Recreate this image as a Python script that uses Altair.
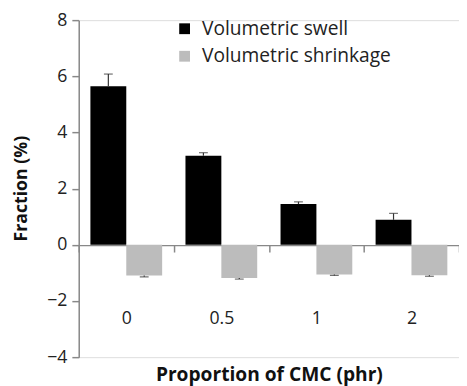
import altair as alt
import pandas as pd

cmc = ["0", "0.5", "1", "2"]
series = ["Volumetric swell", "Volumetric shrinkage"]
swell = [5.65, 3.17, 1.45, 0.89]
swell_err = [0.43, 0.11, 0.08, 0.23]
shrink = [-1.09, -1.18, -1.06, -1.08]
shrink_err = [0.05, 0.04, 0.03, 0.04]
colors = ["#000000", "#bcbcbc"]

rows = []
for i, c in enumerate(cmc):
    rows.append({"cmc": c, "series": series[0], "value": swell[i],
                 "cap": swell[i] + swell_err[i]})
    rows.append({"cmc": c, "series": series[1], "value": shrink[i],
                 "cap": shrink[i] - shrink_err[i]})
df = pd.DataFrame(rows)

FONT = "Open Sans"

x = alt.X("cmc:N", sort=cmc,
          scale=alt.Scale(paddingInner=0, paddingOuter=0),
          axis=alt.Axis(title="Proportion of CMC (phr)", orient="bottom",
                        offset=-114, labelAngle=0, tickBand="extent",
                        tickSize=7, tickColor="#888888", domainColor="#888888",
                        domainWidth=1.5, tickWidth=1.5,
                        labelPadding=59, labelFontSize=18, labelColor="#222222",
                        labelFont=FONT, titleFont=FONT, titleFontSize=19.5,
                        titleFontWeight="bold", titleColor="#111111",
                        titleY=123, titleBaseline="top"))
xo = alt.XOffset("series:N", sort=series,
                 scale=alt.Scale(paddingOuter=0.325, paddingInner=0))
y_scale = alt.Scale(domain=[-4, 8], nice=False)

bars = alt.Chart(df).mark_bar().encode(
    x=x, xOffset=xo,
    y=alt.Y("value:Q", scale=y_scale,
            axis=alt.Axis(title="Fraction (%)", values=[-4, -2, 0, 2, 4, 6, 8],
                          grid=False, tickSize=7, tickColor="#888888",
                          domainColor="#888888", domainWidth=1.5, tickWidth=1.5,
                          labelPadding=5, labelFontSize=18, labelColor="#222222",
                          labelFont=FONT, titleFont=FONT, titleFontSize=18,
                          titleFontWeight="bold", titleColor="#111111",
                          titleX=-58, titleY=171, titleBaseline="middle",
                          titleAlign="center")),
    color=alt.Color("series:N", sort=series,
                    scale=alt.Scale(domain=series, range=colors),
                    legend=alt.Legend(title=None, orient="none", legendX=98,
                                      legendY=-1, symbolType="square",
                                      symbolSize=121, symbolStrokeWidth=0,
                                      labelFontSize=19.5, labelFont=FONT,
                                      labelColor="#222222", labelOffset=8,
                                      labelLimit=0, rowPadding=7, padding=0)),
)

err = alt.Chart(df).mark_rule(color="#333333", strokeWidth=1.2).encode(
    x=alt.X("cmc:N", sort=cmc), xOffset=alt.XOffset("series:N", sort=series),
    y="value:Q", y2="cap:Q",
)
cap = alt.Chart(df).mark_tick(color="#333333", thickness=1.2, size=9).encode(
    x=alt.X("cmc:N", sort=cmc), xOffset=alt.XOffset("series:N", sort=series),
    y="cap:Q",
)

chart = alt.layer(bars, err, cap).properties(
    width=387, height=343,
    autosize=alt.AutoSizeParams(type="none"),
    padding={"left": 72, "top": 9, "right": 0, "bottom": 26},
).configure_view(stroke=None).configure(background="white")

chart.save("out.html", embed_options={"renderer": "svg", "actions": False})
